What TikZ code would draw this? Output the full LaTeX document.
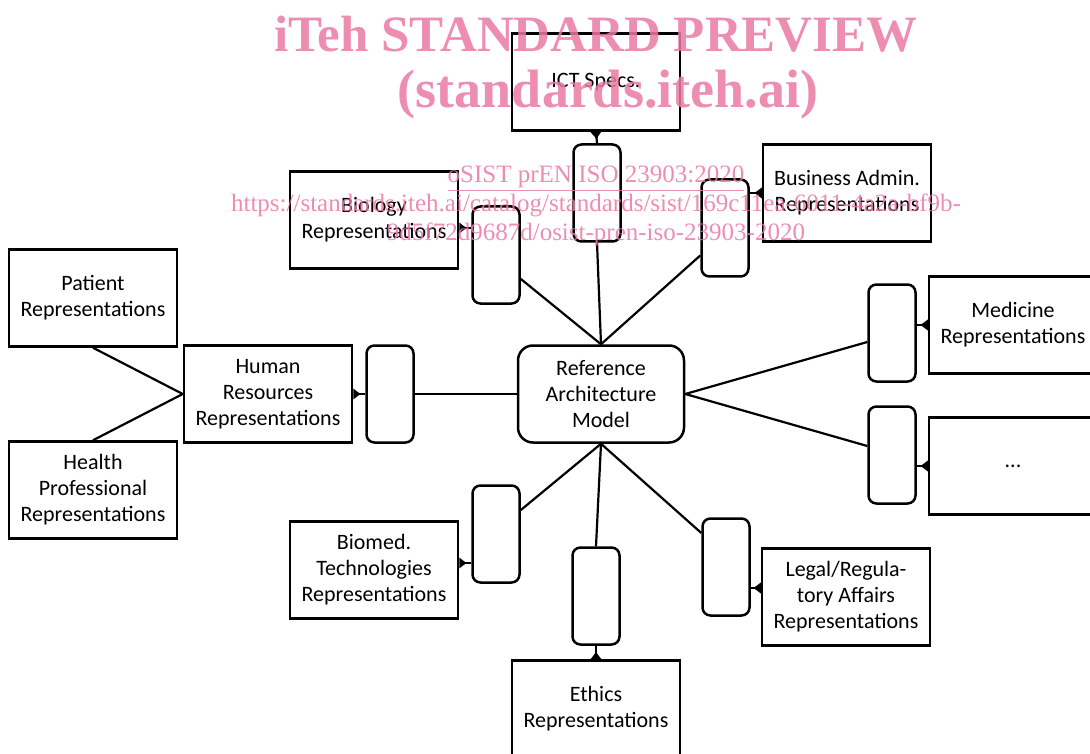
\documentclass[tikz,border=0pt]{standalone}
\usepackage{fontspec}
\setmainfont{Carlito}
\newfontfamily\wmfont{Liberation Serif}
\usetikzlibrary{arrows.meta}
\definecolor{wmpink}{RGB}{234,122,162}

\begin{document}
\begin{tikzpicture}[
            x=1pt, y=-1pt,
            line width=2.2pt,
            font=\fontsize{22}{26}\selectfont,
            repbox/.style={draw, line width=2.5pt, minimum width=168pt,
              minimum height=97pt, align=center, inner sep=0pt},
            refbox/.style={repbox, minimum width=166pt, rounded corners=15pt},
            conn/.style={draw, line width=2.5pt, rounded corners=8pt,
              minimum width=47pt, minimum height=97pt, inner sep=0pt},
            link/.style={{Latex[reversed,length=8pt,width=12pt]}-},
            wmbig/.style={text=wmpink, text opacity=0.85, anchor=base,
              font=\wmfont\bfseries\fontsize{51}{56}\selectfont},
            wmsmall/.style={text=wmpink, text opacity=0.85, anchor=base,
              font=\wmfont\fontsize{25}{29}\selectfont},
          ]
          \clip (0,0) rectangle (1090,754);
          % upper row
          \node[repbox] (ict) at (596,82) {ICT Specs.};
          \node[conn] (ictconn) at (597,193) {};
          \node[repbox] (bio) at (374,220) {Biology\\Representations};
          \node[conn] (bioconn) at (496,255) {};
          \node[repbox] (biz) at (847,193) {Business Admin.\\Representations};
          \node[conn] (bizconn) at (725,228) {};
          % left side
          \node[repbox] (patient) at (93,298) {Patient\\Representations};
          \node[repbox] (health) at (93,490) {Health\\Professional\\Representations};
          \node[repbox] (hr) at (268,394) {Human\\Resources\\Representations};
          \node[conn] (hrconn) at (390,394) {};
          % centre
          \node[refbox] (ref) at (601,394) {Reference\\Architecture\\Model};
          % right side
          \node[conn] (medconn) at (892,333) {};
          \node[repbox] (med) at (1013,325) {Medicine\\Representations};
          \node[conn] (dotconn) at (892,455) {};
          \node[repbox] (dots) at (1013,466) {...};
          % lower row
          \node[conn] (biomedconn) at (496,534) {};
          \node[repbox] (biomed) at (374,570) {Biomed.\\Technologies\\Representations};
          \node[conn] (ethconn) at (596,596) {};
          \node[repbox] (eth) at (596,709) {Ethics\\Representations};
          \node[conn] (legconn) at (726,567) {};
          \node[repbox] (leg) at (846,597) {Legal/Regula-\\tory Affairs\\Representations};

          \draw (patient.south) -- (hr.west);
          \draw (health.north) -- (hr.west);
          \draw (hrconn) -- (ref);
          \draw (ref.north) -- (bioconn.-44);
          \draw (ref.north) -- (ictconn.south);
          \draw (ref.north) -- (bizconn.-132);
          \draw (ref.east) -- (medconn.200);
          \draw (ref.east) -- (dotconn.160);
          \draw (ref.south) -- (biomedconn.44);
          \draw (ref.south) -- (ethconn.north);
          \draw (ref.south) -- (legconn.126);

          \draw[link] (ict.south) -- (ictconn.north);
          \draw[link] ([yshift=-8pt]bio.east) -- ([yshift=-8pt]bio.east -| bioconn.west);
          \draw[link] (biz.west) -- (biz.west -| bizconn.east);
          \draw[link] (hr.east) -- (hrconn.west);
          \draw[link] (med.west) -- (med.west -| medconn.east);
          \draw[link] (dots.west) -- (dots.west -| dotconn.east);
          \draw[link] ([yshift=7pt]biomed.east) -- ([yshift=7pt]biomed.east -| biomedconn.west);
          \draw[link] (eth.north) -- (ethconn.south);
          \draw[link] ([yshift=9pt]leg.west) -- ([yshift=9pt]leg.west -| legconn.east);

          % watermark
          \node[wmbig] (wmtitle) at (596,52) {iTeh STANDARD PREVIEW};
          \node[wmbig, font=\wmfont\bfseries\fontsize{54}{58}\selectfont] (wmsite) at (608,108) {(standards.iteh.ai)};
          \node[wmsmall] (wmdoc) at (596,183) {\underline{oSIST prEN ISO 23903:2020}};
          \node[wmsmall] (wmurla) at (596,212) {https://standards.iteh.ai/catalog/standards/sist/169c11ea-6011-4a2a-bf9b-};
          \node[wmsmall] (wmurlb) at (596,241) {9d5f72d9687d/osist-pren-iso-23903-2020};
          \end{tikzpicture}
\end{document}
